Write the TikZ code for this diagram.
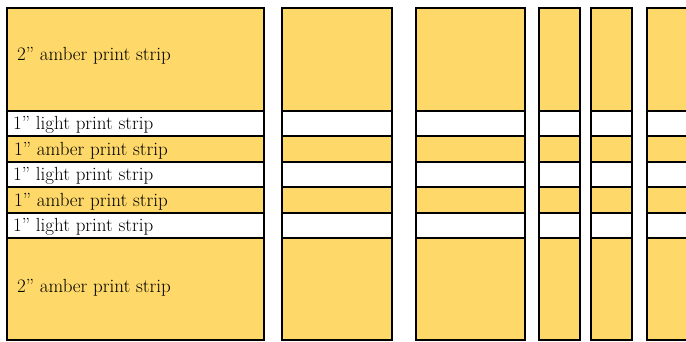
\documentclass[tikz,border=0pt]{standalone}
\usepackage{tikz}
\definecolor{amber}{RGB}{254,216,104}

\begin{document}
\begin{tikzpicture}[
  x=1pt, y=-1pt,
  font=\fontsize{19}{22}\selectfont,
  amberstrip/.style={draw, line width=2.8pt, fill=amber},
  lightstrip/.style={draw, line width=2.8pt, fill=white},
  striplabel/.style={anchor=west, inner sep=0pt}
]
\useasboundingbox (0,0) rectangle (686,342);
\clip (0,0) rectangle (686,342);

% strip set and its cut segments
\foreach \xl/\xr in {7/264, 282/392, 416/525, 539/580, 591/632, 647/720}
  \foreach \yt/\yb/\kind in {8/111/amberstrip, 111/136/lightstrip, 136/162/amberstrip,
                              162/187/lightstrip, 187/213/amberstrip, 213/238/lightstrip,
                              238/340/amberstrip}
    \draw[\kind] (\xl,\yt) rectangle (\xr,\yb);

\node[striplabel] (top)    at (17,56)    {2'' amber print strip};
\node[striplabel] (lightA) at (13,125)   {1'' light print strip};
\node[striplabel] (amberA) at (14,151)   {1'' amber print strip};
\node[striplabel] (lightB) at (13,176)   {1'' light print strip};
\node[striplabel] (amberB) at (14,201.5) {1'' amber print strip};
\node[striplabel] (lightC) at (13,226.5) {1'' light print strip};
\node[striplabel] (bottom) at (17,288)   {2'' amber print strip};
\end{tikzpicture}
\end{document}
